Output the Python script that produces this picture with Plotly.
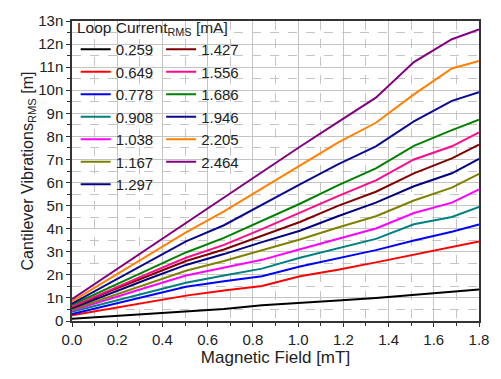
import plotly.graph_objects as go

field_mT = [0, 0.168, 0.336, 0.504, 0.672, 0.84, 1.008, 1.176, 1.344, 1.512, 1.68, 1.8]

currents = ["0.259", "0.649", "0.778", "0.908", "1.038", "1.167", "1.297",
            "1.427", "1.556", "1.686", "1.946", "2.205", "2.464"]

v_0259 = [0.10, 0.20, 0.30, 0.39, 0.52, 0.68, 0.77, 0.89, 1.00, 1.14, 1.28, 1.36]
v_0649 = [0.25, 0.53, 0.82, 1.10, 1.32, 1.52, 1.94, 2.22, 2.54, 2.88, 3.21, 3.45]
v_0778 = [0.30, 0.70, 1.10, 1.48, 1.72, 1.94, 2.36, 2.71, 3.07, 3.49, 3.87, 4.18]
v_0908 = [0.40, 0.82, 1.25, 1.66, 1.97, 2.27, 2.74, 3.16, 3.56, 4.19, 4.51, 4.94]
v_1038 = [0.45, 0.97, 1.47, 1.97, 2.30, 2.65, 3.11, 3.56, 4.01, 4.68, 5.13, 5.70]
v_1167 = [0.50, 1.07, 1.62, 2.18, 2.60, 3.07, 3.53, 4.05, 4.54, 5.22, 5.78, 6.37]
v_1297 = [0.55, 1.20, 1.82, 2.43, 2.90, 3.42, 3.91, 4.54, 5.13, 5.84, 6.40, 7.03]
v_1427 = [0.60, 1.30, 1.95, 2.60, 3.10, 3.70, 4.29, 4.99, 5.60, 6.40, 7.05, 7.64]
v_1556 = [0.62, 1.35, 2.05, 2.74, 3.30, 3.98, 4.71, 5.41, 6.09, 7.00, 7.57, 8.17]
v_1686 = [0.70, 1.45, 2.20, 2.97, 3.60, 4.35, 5.08, 5.88, 6.61, 7.59, 8.27, 8.72]
v_1946 = [0.75, 1.65, 2.55, 3.45, 4.15, 5.05, 5.92, 6.79, 7.57, 8.65, 9.54, 9.92]
v_2205 = [0.85, 1.85, 2.85, 3.84, 4.75, 5.74, 6.72, 7.73, 8.59, 9.82, 10.94, 11.27]
v_2464 = [0.95, 2.05, 3.15, 4.26, 5.35, 6.45, 7.55, 8.62, 9.68, 11.22, 12.21, 12.63]

series = [v_0259, v_0649, v_0778, v_0908, v_1038, v_1167, v_1297,
          v_1427, v_1556, v_1686, v_1946, v_2205, v_2464]

colors = ["#000000", "#ff0000", "#0000ff", "#008080", "#ff00ff", "#808000", "#000080",
          "#800000", "#ff0a8c", "#008000", "#0a0a90", "#ff8000", "#800080"]

legend_title = "Loop Current<sub>RMS</sub> [mA]"

y_ticks = list(range(0, 14))
y_tick_text = ["0"] + [f"{i}n" for i in range(1, 14)]
x_ticks = [0.0, 0.2, 0.4, 0.6, 0.8, 1.0, 1.2, 1.4, 1.6, 1.8]
x_tick_text = [f"{v:.1f}" for v in x_ticks]

fig = go.Figure()
for i, (name, vals, col) in enumerate(zip(currents, series, colors)):
    fig.add_trace(go.Scatter(
        x=field_mT, y=vals, mode="lines", name=name,
        line=dict(color=col, width=2),
        legend="legend" if i < 7 else "legend2",
    ))

fig.add_annotation(
    text=legend_title, xref="paper", yref="paper", x=0.008, y=0.974,
    xanchor="left", yanchor="middle", showarrow=False,
    font=dict(size=15.5, color="#222222"),
)

font_family = "Liberation Sans, Arial, sans-serif"
fig.update_layout(
    width=501, height=379,
    margin=dict(l=72, r=14, t=13, b=58),
    paper_bgcolor="white", plot_bgcolor="white",
    font=dict(family=font_family, size=15, color="#222222"),
    showlegend=True,
    legend=dict(
        x=0.009, y=0.96, xanchor="left", yanchor="top",
        bgcolor="rgba(0,0,0,0)", borderwidth=0,
        font=dict(size=15, color="#222222"),
        tracegroupgap=0, itemwidth=30,
    ),
    legend2=dict(
        x=0.219, y=0.96, xanchor="left", yanchor="top",
        bgcolor="rgba(0,0,0,0)", borderwidth=0,
        font=dict(size=15, color="#222222"),
        tracegroupgap=0, itemwidth=30,
    ),
    xaxis=dict(
        range=[0, 1.8], tickmode="array", tickvals=x_ticks, ticktext=x_tick_text,
        showline=True, linecolor="#333333", linewidth=1.5, mirror=True,
        ticks="outside", ticklen=4, tickcolor="#333333",
        showgrid=True, gridcolor="#c4c4c4", gridwidth=1,
        zeroline=False,
        minor=dict(dtick=0.1, showgrid=True, gridcolor="#c4c4c4", griddash="dash",
                   ticks="outside", ticklen=3, tickcolor="#333333"),
        title=dict(text="Magnetic Field [mT]", font=dict(size=17), standoff=2),
        tickfont=dict(size=15),
    ),
    yaxis=dict(
        range=[0, 13], tickmode="array", tickvals=y_ticks, ticktext=y_tick_text,
        showline=True, linecolor="#333333", linewidth=1.5, mirror=True,
        ticks="outside", ticklen=4, tickcolor="#333333",
        showgrid=True, gridcolor="#c4c4c4", gridwidth=1,
        zeroline=False,
        minor=dict(dtick=0.5, showgrid=True, gridcolor="#c4c4c4", griddash="dash",
                   ticks="outside", ticklen=3, tickcolor="#333333"),
        title=dict(text="Cantilever Vibrations<sub>RMS</sub> [m]", font=dict(size=16), standoff=1),
        tickfont=dict(size=15),
    ),
)

fig.write_html("out.html", config={"displayModeBar": False},
               post_script="document.body.style.margin='0';")
